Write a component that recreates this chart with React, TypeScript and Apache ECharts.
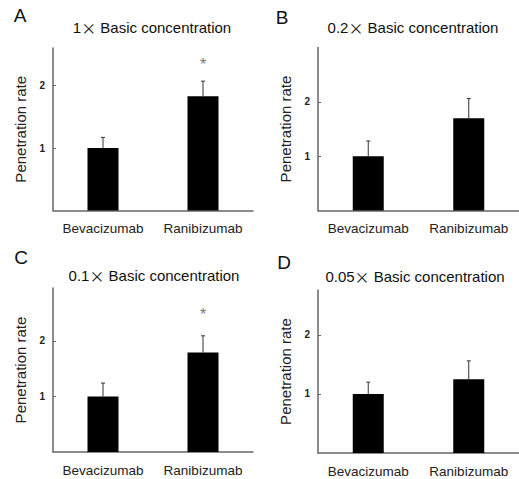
import React, { useEffect, useRef } from "react";
import * as echarts from "echarts";

const categories = ["Bevacizumab", "Ranibizumab"];
const panelLetters = ["A", "B", "C", "D"];
const concentrations = ["1", "0.2", "0.1", "0.05"];
const yAxisName = "Penetration rate";
const means = [
  [1.0, 1.83],
  [1.0, 1.7],
  [1.0, 1.79],
  [1.0, 1.25],
];
const errors = [
  [0.17, 0.24],
  [0.28, 0.36],
  [0.24, 0.3],
  [0.2, 0.31],
];
const yMaxes = [2.6, 3.0, 2.95, 2.76];
const yTickValues = [1, 2];
const sigMarks = [
  ["", "*"],
  ["", ""],
  ["", "*"],
  ["", ""],
];
const sigLevels = [
  [0, 2.33],
  [0, 0],
  [0, 2.47],
  [0, 0],
];

const FONT = "'Liberation Sans', Arial, sans-serif";

const grids = [
  { left: 53, top: 48, width: 200, height: 162.5 },
  { left: 318, top: 47.5, width: 202, height: 163 },
  { left: 53, top: 288, width: 200, height: 164 },
  { left: 318, top: 290, width: 202, height: 163 },
];
const titlePos = [
  [152, 27],
  [413, 27],
  [154, 275],
  [415, 276],
];
const letterPos = [
  [20, 15],
  [282, 17],
  [21, 257],
  [284, 262],
];

export default function App() {
  const ref = useRef<HTMLDivElement>(null);
  useEffect(() => {
    if (!ref.current) return;
    const chart = echarts.init(ref.current, undefined, { renderer: "svg" });
    const xAxis: any[] = [];
    const yAxis: any[] = [];
    const series: any[] = [];
    const graphic: any[] = [];
    grids.forEach((g, i) => {
      xAxis.push({
        type: "category",
        gridIndex: i,
        data: categories,
        axisLine: { lineStyle: { color: "#666", width: 1.5 } },
        axisTick: { inside: true, length: 3, lineStyle: { color: "#666" } },
        axisLabel: {
          interval: 0,
          fontSize: 13.5,
          color: "#222",
          margin: 11,
          fontFamily: FONT,
        },
      });
      yAxis.push({
        type: "value",
        gridIndex: i,
        min: 0,
        max: yMaxes[i],
        interval: 1,
        name: yAxisName,
        nameLocation: "middle",
        nameGap: 25,
        nameTextStyle: { fontSize: 15, color: "#222", fontFamily: FONT },
        splitLine: { show: false },
        axisLine: { show: true, lineStyle: { color: "#666", width: 1.5 } },
        axisTick: {
          show: true,
          inside: true,
          length: 3,
          customValues: yTickValues,
          lineStyle: { color: "#666" },
        },
        axisLabel: {
          fontSize: 10,
          color: "#222",
          margin: 8,
          fontFamily: FONT,
          fontWeight: "bold",
          customValues: yTickValues,
        },
      });
      series.push({
        type: "bar",
        xAxisIndex: i,
        yAxisIndex: i,
        data: means[i],
        barWidth: 31,
        itemStyle: { color: "#000" },
      });
      series.push({
        type: "custom",
        xAxisIndex: i,
        yAxisIndex: i,
        data: categories.map((_, j) => [j, means[i][j], errors[i][j]]),
        renderItem: (params: any, api: any) => {
          const x = api.value(0);
          const m = api.value(1);
          const e = api.value(2);
          const top = api.coord([x, m + e]);
          const bot = api.coord([x, m]);
          return {
            type: "group",
            children: [
              {
                type: "line",
                shape: { x1: top[0], y1: top[1], x2: bot[0], y2: bot[1] },
                style: { stroke: "#333", lineWidth: 1 },
              },
              {
                type: "line",
                shape: { x1: top[0] - 2, y1: top[1], x2: top[0] + 2, y2: top[1] },
                style: { stroke: "#333", lineWidth: 1 },
              },
            ],
          };
        },
      });
      const sigData = categories
        .map((_, j) => [j, sigLevels[i][j], sigMarks[i][j]])
        .filter((d) => d[2] !== "");
      series.push({
        type: "custom",
        xAxisIndex: i,
        yAxisIndex: i,
        data: sigData,
        renderItem: (params: any, api: any) => {
          const p = api.coord([api.value(0), api.value(1)]);
          return {
            type: "text",
            x: p[0],
            y: p[1],
            style: {
              text: sigData[params.dataIndex][2],
              fontSize: 16,
              fill: "#777",
              align: "center",
              verticalAlign: "middle",
              fontFamily: FONT,
            },
          };
        },
      });
      graphic.push({
        type: "text",
        x: titlePos[i][0],
        y: titlePos[i][1],
        style: {
          text: `{n|${concentrations[i]}}{x|×}{n| Basic concentration}`,
          align: "center",
          verticalAlign: "middle",
          rich: {
            n: { fontSize: 15, fill: "#111", fontFamily: FONT },
            x: { fontSize: 15, fill: "#111", fontFamily: "'Noto Sans CJK JP', sans-serif" },
          },
        },
      });
      graphic.push({
        type: "text",
        x: letterPos[i][0],
        y: letterPos[i][1],
        style: {
          text: panelLetters[i],
          fontSize: 19,
          fill: "#111",
          align: "center",
          verticalAlign: "middle",
          fontFamily: FONT,
        },
      });
    });
    chart.setOption({
      animation: false,
      backgroundColor: "#fff",
      grid: grids,
      xAxis,
      yAxis,
      series,
      graphic,
    });
    return () => chart.dispose();
  }, []);
  return (
    <div
      ref={ref}
      style={{ position: "absolute", left: 0, top: 0, width: 519, height: 479 }}
    />
  );
}
